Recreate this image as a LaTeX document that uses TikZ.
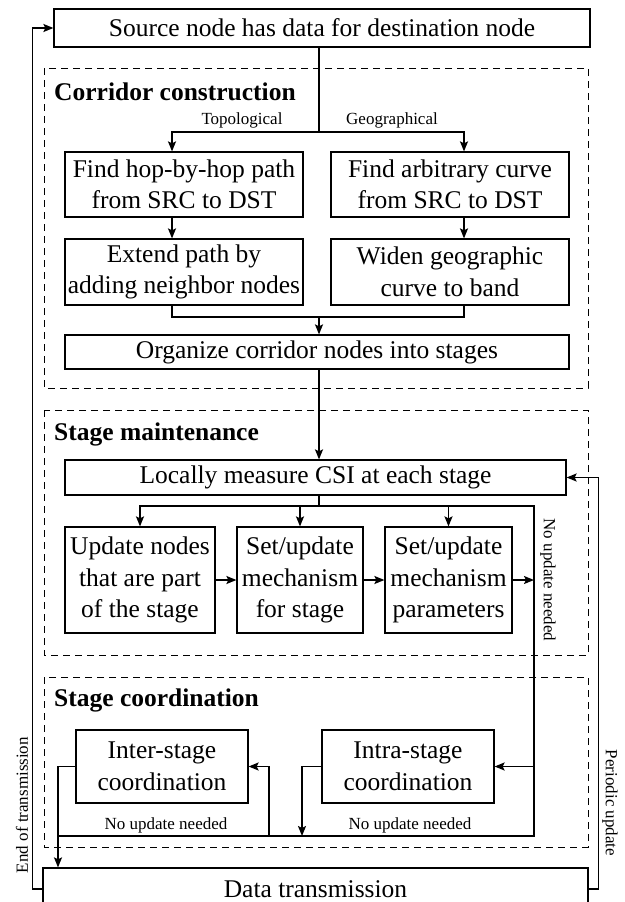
\documentclass[tikz,border=0pt]{standalone}
\usepackage{fontspec}
\setmainfont{Liberation Serif}
\usetikzlibrary{arrows.meta, positioning}

\begin{document}
\begin{tikzpicture}[x=1pt, y=-1pt,
  box/.style={draw, line width=1.2pt, align=center, inner sep=0pt,
    font=\fontsize{25.5}{31.5}\selectfont},
  rahmen/.style={draw, line width=1pt, dash pattern=on 7pt off 5pt},
  titel/.style={anchor=west, inner sep=0pt, font=\bfseries\fontsize{25.5}{30}\selectfont},
  klein/.style={inner sep=0pt, font=\fontsize{17}{20}\selectfont},
  linie/.style={line width=1.7pt},
  pfeil/.style={line width=1.7pt, -{Stealth[length=10pt, width=8pt, inset=2pt]}}]

\useasboundingbox (0,0) rectangle (624,902);
\clip (0,0) rectangle (624,902);

% Rahmen
\draw[rahmen] (44,68) rectangle (588,388);
\draw[rahmen] (44,410) rectangle (588,655);
\draw[rahmen] (44,677) rectangle (588,847);
\node[titel] (t1) at (54,92) {Corridor construction};
\node[titel] (t2) at (54,434) {Stage maintenance};
\node[titel] (t3) at (54,700) {Stage coordination};

% Knoten
\node[box, minimum width=536pt, minimum height=38pt] (src) at (322,28) {Source node has data for destination node};
\node[box, minimum width=238pt, minimum height=65pt] (hop) at (184,184.5) {Find hop-by-hop path\\from SRC to DST};
\node[box, minimum width=238pt, minimum height=65pt] (arb) at (450,184.5) {Find arbitrary curve\\from SRC to DST};
\node[box, minimum width=238pt, minimum height=66pt] (ext) at (184,272) {Extend path by\\adding neighbor nodes};
\node[box, minimum width=238pt, minimum height=66pt] (wid) at (450,272) {Widen geographic\\curve to band};
\node[box, minimum width=504pt, minimum height=34pt] (org) at (317,352) {Organize corridor nodes into stages};
\node[box, minimum width=501pt, minimum height=35pt] (csi) at (315.5,477.5) {Locally measure CSI at each stage};
\node[box, minimum width=150pt, minimum height=106pt] (upd) at (140,580) {Update nodes\\that are part\\of the stage};
\node[box, minimum width=126pt, minimum height=106pt] (mech) at (300,580) {Set/update\\mechanism\\for stage};
\node[box, minimum width=127pt, minimum height=106pt] (par) at (448.5,580) {Set/update\\mechanism\\parameters};
\node[box, minimum width=172pt, minimum height=73pt] (inter) at (162,766.5) {Inter-stage\\coordination};
\node[box, minimum width=172pt, minimum height=73pt] (intra) at (408,766.5) {Intra-stage\\coordination};
\node[box, minimum width=545pt, minimum height=42pt] (data) at (315.5,889) {Data transmission};

% Hilfspunkte
\coordinate (v1) at (319,132);
\coordinate (v2) at (319,317);
\coordinate (v3) at (319,506);
\coordinate (xl) at (172,0);
\coordinate (xr) at (464,0);
\coordinate (nu) at (534,506);
\coordinate (u1) at (534,836);
\coordinate (ul) at (58,836);
\coordinate (k1) at (269,836);
\coordinate (k2) at (302,836);

% Korridor
\draw[linie] (src.south -| v1) -- (v1);
\draw[pfeil] (v1) -| (hop.north -| xl);
\draw[pfeil] (v1) -| (arb.north -| xr);
\draw[pfeil] (hop.south -| xl) -- (ext.north -| xl);
\draw[pfeil] (arb.south -| xr) -- (wid.north -| xr);
\draw[linie] (ext.south -| xl) |- (v2) -| (wid.south -| xr);
\draw[pfeil] (v2) -- (org.north -| v2);
\draw[pfeil] (org.south -| v2) -- (csi.north -| v2);
\node[klein] (topo) at (242,120) {Topological};
\node[klein] (geo) at (392,120) {Geographical};

% Wartung
\draw[linie] (csi.south -| v3) -- (v3);
\draw[pfeil] (v3) -| (upd.north);
\draw[pfeil] (v3) -| (mech.north);
\draw[pfeil] (v3) -| (par.north);
\draw[linie] (v3) -- (nu) -- (u1) -- (ul);
\draw[pfeil] (upd) -- (mech);
\draw[pfeil] (mech) -- (par);
\draw[pfeil] (par.east) -- (par.east -| nu);
\node[klein, rotate=-90] (nu1) at (548,580) {No update needed};

% Koordination
\draw[pfeil] (intra.east -| nu) -- (intra.east);
\draw[pfeil] (k1) |- (inter.east);
\draw[pfeil] (intra.west) -| (k2);
\draw[pfeil] (inter.west) -| (data.north -| ul);
\node[klein] (nu2) at (166,825) {No update needed};
\node[klein] (nu3) at (410,825) {No update needed};

% Rueckfuehrung
\draw[pfeil] (data.west) -- ++(-10,0) |- (src.west);
\draw[pfeil] (data.east) -- ++(10,0) |- (csi.east);
\node[klein, rotate=90] (eot) at (22,805) {End of transmission};
\node[klein, rotate=-90] (per) at (610,803) {Periodic update};
\end{tikzpicture}
\end{document}
